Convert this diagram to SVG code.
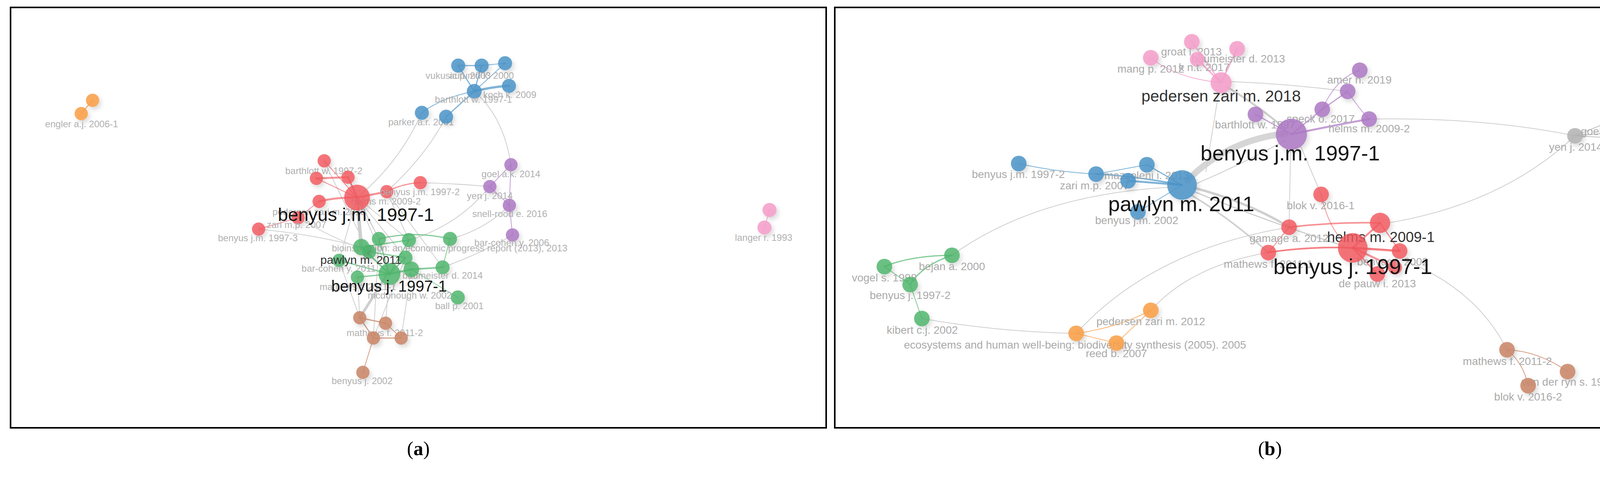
<svg xmlns="http://www.w3.org/2000/svg" width="4390" height="1222" viewBox="0 0 4390 1222">
<style>
text{font-family:"Liberation Sans",Arial,sans-serif;text-anchor:middle}
.la{font-size:24px;fill:#b0b0b0}
.lb{font-size:28px;fill:#aaaaaa}
.dk{fill:#151515}
.md{fill:#333333}
.frame{fill:none;stroke:#000;stroke-width:4}
.cap{font-family:"Liberation Serif","Times New Roman",serif;font-size:50px;fill:#000}
circle{filter:url(#sh)}
.R{fill:#f2585e;fill-opacity:.82}
.G{fill:#4db56a;fill-opacity:.82}
.B{fill:#4a94c8;fill-opacity:.85}
.P{fill:#ad78c4;fill-opacity:.85}
.O{fill:#f9a04a;fill-opacity:.88}
.N{fill:#c9886a;fill-opacity:.88}
.K{fill:#f59fcb;fill-opacity:.88}
.Y{fill:#b3b3b3;fill-opacity:.85}
.e{fill:none;stroke:#cfcfcf;stroke-width:2;stroke-linecap:round}
.eR{fill:none;stroke:#f2585e;stroke-opacity:.65;stroke-linecap:round}
.eG{fill:none;stroke:#4db56a;stroke-opacity:.7;stroke-linecap:round}
.eB{fill:none;stroke:#4a94c8;stroke-opacity:.7;stroke-linecap:round}
.eP{fill:none;stroke:#ad78c4;stroke-opacity:.7;stroke-linecap:round}
.eO{fill:none;stroke:#f9a04a;stroke-opacity:.75;stroke-linecap:round}
.eN{fill:none;stroke:#c9886a;stroke-opacity:.8;stroke-linecap:round}
.eK{fill:none;stroke:#f59fcb;stroke-opacity:.8;stroke-linecap:round}
.eY{fill:none;stroke:#a8a8a8;stroke-opacity:.7;stroke-linecap:round}
</style>
<defs>
<filter id="sh" x="-60%" y="-60%" width="220%" height="220%">
<feDropShadow dx="5" dy="7" stdDeviation="6" flood-color="#000" flood-opacity="0.16"/>
</filter>
</defs>
<rect x="0" y="0" width="4390" height="1222" fill="#fff"/>
<rect class="frame" x="27" y="19" width="2088" height="1077"/>
<rect class="frame" x="2137" y="19" width="2229" height="1077"/>

<g id="connectors">
<!-- panel a gray -->
<path class="e" d="M914,506 Q1020,420 1080,289"/>
<path class="e" d="M990,491 Q1090,400 1142,299"/>
<path class="e" d="M1076,468 Q1165,470 1254,478"/>
<path class="e" d="M1214,234 Q1290,300 1308,422"/>
<path class="e" d="M1047,615 Q1170,580 1254,478"/>
<path class="e" d="M1152,612 Q1240,590 1304,526"/>
<path class="e" d="M1133,685 Q1230,650 1312,602"/>
<path class="e" style="stroke-width:9" d="M914,506 L925,633"/>
<path class="e" style="stroke-width:7" d="M990,705 L921,814"/>
<path class="e" d="M662,587 Q800,600 925,633"/>
<path class="e" d="M763,558 Q850,610 945,645"/>
<path class="e" d="M914,506 L970,612"/>
<path class="e" d="M914,506 L1047,615"/>
<path class="e" d="M914,506 L1038,660"/>
<path class="e" d="M914,506 L997,702"/>
<path class="e" d="M914,506 L868,667"/>
<path class="e" d="M830,412 Q900,560 945,645"/>
<path class="e" d="M990,491 L1047,615"/>
<path class="e" d="M990,491 L1133,685"/>
<path class="e" d="M891,454 L970,612"/>
<path class="e" d="M997,702 L987,828"/>
<path class="e" d="M1053,690 L1027,866"/>
<path class="e" d="M1038,660 L956,866"/>
<path class="e" d="M915,710 L921,814"/>
<path class="e" d="M970,612 L956,866"/>
<path class="e" d="M868,667 L921,814"/>
<!-- panel a colored -->
<path class="eR" style="stroke-width:2" d="M830,412 L914,506"/>
<path class="eR" style="stroke-width:5" d="M810,457 L891,454"/>
<path class="eR" style="stroke-width:2" d="M810,457 L914,506"/>
<path class="eR" style="stroke-width:4" d="M891,454 L914,506"/>
<path class="eR" style="stroke-width:5" d="M817,516 Q860,505 914,506"/>
<path class="eR" style="stroke-width:5" d="M914,506 L990,491"/>
<path class="eR" style="stroke-width:3" d="M990,491 Q1030,470 1076,468"/>
<path class="eR" style="stroke-width:2" d="M763,558 L817,516"/>
<path class="eR" style="stroke-width:2" d="M662,587 L763,558"/>
<path class="eG" style="stroke-width:4" d="M925,633 L997,702"/>
<path class="eG" style="stroke-width:3" d="M970,612 L997,702"/>
<path class="eG" style="stroke-width:3" d="M1047,615 L997,702"/>
<path class="eG" style="stroke-width:3" d="M868,667 L997,702"/>
<path class="eG" style="stroke-width:3" d="M915,710 L997,702"/>
<path class="eG" style="stroke-width:3" d="M1038,660 L997,702"/>
<path class="eG" style="stroke-width:5" d="M1053,690 L997,702"/>
<path class="eG" style="stroke-width:4" d="M1133,685 L1053,690"/>
<path class="eG" style="stroke-width:2" d="M1152,612 L1133,685"/>
<path class="eG" style="stroke-width:3" d="M970,612 Q1060,590 1152,612"/>
<path class="eG" style="stroke-width:2" d="M1172,762 L1053,690"/>
<path class="eG" style="stroke-width:3" d="M925,633 L1047,615"/>
<path class="eG" style="stroke-width:3" d="M945,645 L1038,660"/>
<path class="eB" style="stroke-width:3" d="M1173,168 L1233,168"/>
<path class="eB" style="stroke-width:2" d="M1233,168 L1293,162"/>
<path class="eB" style="stroke-width:3" d="M1173,168 L1214,234"/>
<path class="eB" style="stroke-width:3" d="M1233,168 L1214,234"/>
<path class="eB" style="stroke-width:2" d="M1293,162 L1214,234"/>
<path class="eB" style="stroke-width:6" d="M1214,234 Q1260,222 1303,220"/>
<path class="eB" style="stroke-width:2" d="M1214,234 Q1130,250 1080,289"/>
<path class="eB" style="stroke-width:3" d="M1214,234 L1142,299"/>
<path class="eP" style="stroke-width:2" d="M1308,422 L1254,478"/>
<path class="eP" style="stroke-width:2" d="M1308,422 L1304,526"/>
<path class="eP" style="stroke-width:2" d="M1254,478 L1304,526"/>
<path class="eP" style="stroke-width:2" d="M1304,526 L1312,602"/>
<path class="eN" style="stroke-width:3" d="M921,814 L987,828"/>
<path class="eN" style="stroke-width:3" d="M921,814 L956,866"/>
<path class="eN" style="stroke-width:3" d="M956,866 L1027,866"/>
<path class="eN" style="stroke-width:2" d="M987,828 L1027,866"/>
<path class="eN" style="stroke-width:2" d="M956,866 L929,954"/>
<path class="eO" style="stroke-width:3" d="M237,257 L208,291"/>
<path class="eK" style="stroke-width:2" d="M1970,538 L1957,583"/>
<!-- panel b gray -->
<path class="e" style="stroke-width:16;stroke:#d6d6d6" d="M3040,462 Q3140,360 3290,342"/>
<path class="e" style="stroke-width:5" d="M3140,222 Q3220,270 3290,330"/>
<path class="e" d="M3120,236 L3087,440"/>
<path class="e" d="M3150,209 Q3300,215 3450,234"/>
<path class="e" d="M3505,305 Q3800,300 4032,348"/>
<path class="e" d="M3560,570 Q3850,520 4032,348"/>
<path class="e" d="M3590,665 Q3780,740 3858,896"/>
<path class="e" d="M3304,384 L3300,582"/>
<path class="e" d="M3330,375 L3382,498"/>
<path class="e" style="stroke-width:6" d="M3060,482 Q3200,520 3300,582"/>
<path class="e" style="stroke-width:4" d="M3050,500 Q3150,560 3247,647"/>
<path class="e" style="stroke-width:3" d="M3060,492 Q3250,570 3440,630"/>
<path class="e" d="M3064,470 Q3180,420 3290,360"/>
<path class="e" d="M2437,654 Q2650,500 2990,480"/>
<path class="e" d="M2360,816 Q2550,850 2755,854"/>
<path class="e" d="M2946,795 Q3050,680 3247,647"/>
<path class="e" d="M2755,854 Q2950,640 3300,582"/>
<!-- panel b colored -->
<path class="eK" style="stroke-width:3" d="M3126,212 L3051,107"/>
<path class="eK" style="stroke-width:4" d="M3126,212 L3167,125"/>
<path class="eK" style="stroke-width:4" d="M3126,212 L3065,152"/>
<path class="eK" style="stroke-width:2" d="M3126,212 Q3010,200 2946,148"/>
<path class="eP" style="stroke-width:3" d="M3306,344 L3214,293"/>
<path class="eP" style="stroke-width:3" d="M3306,344 L3385,280"/>
<path class="eP" style="stroke-width:5" d="M3306,344 Q3420,320 3505,305"/>
<path class="eP" style="stroke-width:3" d="M3385,280 L3450,234"/>
<path class="eP" style="stroke-width:2" d="M3385,280 Q3420,200 3481,180"/>
<path class="eP" style="stroke-width:2" d="M3450,234 Q3480,280 3505,305"/>
<path class="eB" style="stroke-width:3" d="M3026,474 L2936,422"/>
<path class="eB" style="stroke-width:5" d="M3026,474 L2888,463"/>
<path class="eB" style="stroke-width:4" d="M3026,474 Q2900,450 2806,446"/>
<path class="eB" style="stroke-width:2" d="M3026,474 L2913,543"/>
<path class="eB" style="stroke-width:2" d="M2806,446 L2936,422"/>
<path class="eB" style="stroke-width:2" d="M2608,419 Q2700,440 2806,446"/>
<path class="eG" style="stroke-width:3" d="M2437,654 Q2330,655 2264,683"/>
<path class="eG" style="stroke-width:2" d="M2264,683 L2330,729"/>
<path class="eG" style="stroke-width:3" d="M2437,654 Q2360,680 2330,729"/>
<path class="eG" style="stroke-width:2" d="M2330,729 L2360,816"/>
<path class="eO" style="stroke-width:2" d="M2755,854 L2858,879"/>
<path class="eO" style="stroke-width:2" d="M2755,854 Q2860,840 2946,795"/>
<path class="eO" style="stroke-width:2" d="M2858,879 L2946,795"/>
<path class="eR" style="stroke-width:4" d="M3300,582 Q3420,568 3533,571"/>
<path class="eR" style="stroke-width:4" d="M3247,647 Q3350,630 3463,635"/>
<path class="eR" style="stroke-width:2" d="M3247,647 L3300,582"/>
<path class="eR" style="stroke-width:2" d="M3382,498 Q3400,580 3440,620"/>
<path class="eR" style="stroke-width:5" d="M3463,635 L3533,571"/>
<path class="eR" style="stroke-width:6" d="M3463,635 L3583,643"/>
<path class="eR" style="stroke-width:5" d="M3463,635 L3571,685"/>
<path class="eR" style="stroke-width:4" d="M3463,635 L3526,702"/>
<path class="eR" style="stroke-width:3" d="M3533,571 L3583,643"/>
<path class="eR" style="stroke-width:2" d="M3247,647 Q3400,625 3583,643"/>
<path class="eN" style="stroke-width:2" d="M3858,896 Q3940,900 4013,952"/>
<path class="eN" style="stroke-width:2" d="M3858,896 Q3900,930 3912,988"/>
<path class="eY" style="stroke-width:2" d="M4032,348 L4137,305"/>
<path class="eY" style="stroke-width:2" d="M4032,348 L4232,331"/>
<path class="eY" style="stroke-width:2" d="M4032,348 L4169,355"/>
<path class="eY" style="stroke-width:2" d="M4137,305 L4200,294"/>
<path class="eY" style="stroke-width:2" d="M4200,294 L4232,331"/>
<path class="eY" style="stroke-width:2" d="M4137,305 L4232,331"/>
<path class="eY" style="stroke-width:2" d="M4169,355 L4232,331"/>
</g>

<!-- ===== panel a nodes ===== -->
<g id="a-engler-2"><circle class="O" cx="237" cy="257" r="17"/></g>
<g id="a-engler-1"><circle class="O" cx="208" cy="291" r="17"/><text class="la" x="209" y="326">engler a.j. 2006-1</text></g>
<g id="a-langer-2"><circle class="K" cx="1970" cy="538" r="18"/></g>
<g id="a-langer-1"><circle class="K" cx="1957" cy="583" r="18"/><text class="la" x="1955" y="617">langer r. 1993</text></g>

<g id="a-vukusic"><circle class="B" cx="1173" cy="168" r="18"/><text class="la" x="1173" y="202">vukusic p. 2003</text></g>
<g id="a-autumn"><circle class="B" cx="1233" cy="168" r="18"/><text class="la" x="1233" y="202">autumn k. 2000</text></g>
<g id="a-blue-3"><circle class="B" cx="1293" cy="162" r="18"/></g>
<g id="a-koch"><circle class="B" cx="1303" cy="220" r="18"/><text class="la" x="1305" y="251">koch k. 2009</text></g>
<g id="a-barthlott-1"><circle class="B" cx="1214" cy="234" r="19"/><text class="la" x="1212" y="263">barthlott w. 1997-1</text></g>
<g id="a-parker"><circle class="B" cx="1080" cy="289" r="18"/><text class="la" x="1078" y="321">parker a.r. 2001</text></g>
<g id="a-blue-7"><circle class="B" cx="1142" cy="299" r="18"/></g>

<g id="a-goel"><circle class="P" cx="1308" cy="422" r="17"/><text class="la" x="1308" y="454">goel a.k. 2014</text></g>
<g id="a-yen"><circle class="P" cx="1254" cy="478" r="17"/><text class="la" x="1254" y="510">yen j. 2014</text></g>
<g id="a-snell"><circle class="P" cx="1304" cy="526" r="17"/><text class="la" x="1305" y="556">snell-rood e. 2016</text></g>
<g id="a-barcohen-2006"><circle class="P" cx="1312" cy="602" r="17"/><text class="la" x="1310" y="630">bar-cohen y. 2006</text></g>

<g id="a-barthlott-2"><circle class="R" cx="830" cy="412" r="17"/><text class="la" x="829" y="446">barthlott w. 1997-2</text></g>
<g id="a-red-2"><circle class="R" cx="810" cy="457" r="17"/></g>
<g id="a-red-3"><circle class="R" cx="891" cy="454" r="17"/></g>
<g id="a-helms-2"><circle class="R" cx="990" cy="491" r="17"/><text class="la" x="988" y="524">helms m. 2009-2</text></g>
<g id="a-benyus-jm-2"><circle class="R" cx="1076" cy="468" r="17"/><text class="la" x="1075" y="500">benyus j.m. 1997-2</text></g>
<g id="a-pedersen"><circle class="R" cx="817" cy="516" r="17"/><text class="la" x="817" y="551">pedersen zari m. 2018</text></g>
<g id="a-zari"><circle class="R" cx="763" cy="558" r="17"/><text class="la" x="759" y="584">zari m.p. 2007</text></g>
<g id="a-benyus-jm-3"><circle class="R" cx="662" cy="587" r="17"/><text class="la" x="660" y="618">benyus j.m. 1997-3</text></g>

<g id="a-bioinspiration"><circle class="G" cx="1152" cy="612" r="18"/><text class="la" x="1151" y="644">bioinspiration: an economic progress report (2013), 2013</text></g>
<g id="a-green-2"><circle class="G" cx="970" cy="612" r="18"/></g>
<g id="a-green-3"><circle class="G" cx="1047" cy="615" r="18"/></g>
<g id="a-green-4"><circle class="G" cx="945" cy="645" r="18"/></g>
<g id="a-green-5"><circle class="G" cx="1038" cy="660" r="18"/></g>
<g id="a-barcohen-2011"><circle class="G" cx="868" cy="667" r="17"/><text class="la" x="867" y="696">bar-cohen y. 2011</text></g>
<g id="a-baumeister"><circle class="G" cx="1133" cy="685" r="18"/><text class="la" x="1133" y="714">baumeister d. 2014</text></g>
<g id="a-mathews-1"><circle class="G" cx="915" cy="710" r="17"/><text class="la" x="916" y="743">mathews f. 2011-1</text></g>
<g id="a-mcdonough"><circle class="G" cx="1053" cy="690" r="20"/><text class="la" x="1049" y="765">mcdonough w. 2002</text></g>
<g id="a-ball"><circle class="G" cx="1172" cy="762" r="18"/><text class="la" x="1176" y="792">ball p. 2001</text></g>
<g id="a-pawlyn"><circle class="G" cx="925" cy="633" r="21"/><text class="md" style="font-size:30px" x="924" y="676">pawlyn m. 2011</text></g>

<g id="a-brown-1"><circle class="N" cx="921" cy="814" r="17"/></g>
<g id="a-mathews-2"><circle class="N" cx="987" cy="828" r="17"/><text class="la" x="985" y="861">mathews f. 2011-2</text></g>
<g id="a-brown-3"><circle class="N" cx="956" cy="866" r="17"/></g>
<g id="a-brown-4"><circle class="N" cx="1027" cy="866" r="17"/></g>
<g id="a-benyus-2002"><circle class="N" cx="929" cy="954" r="17"/><text class="la" x="927" y="984">benyus j. 2002</text></g>

<g id="a-benyus-j-1997-1"><circle class="G" cx="997" cy="702" r="28"/><text class="dk" style="font-size:40px" x="996" y="747">benyus j. 1997-1</text></g>
<g id="a-benyus-jm-1997-1"><circle class="R" cx="914" cy="506" r="33"/><text class="dk" style="font-size:47px" x="911" y="566">benyus j.m. 1997-1</text></g>

<!-- ===== panel b nodes ===== -->
<g id="b-groat"><circle class="K" cx="3051" cy="107" r="20"/><text class="lb" x="3050" y="142">groat l. 2013</text></g>
<g id="b-baumeister"><circle class="K" cx="3167" cy="125" r="20"/><text class="lb" x="3170" y="160">baumeister d. 2013</text></g>
<g id="b-pink-4"><circle class="K" cx="3065" cy="152" r="19"/><text class="lb" style="text-anchor:end" x="3148" y="182">k n.t. 2017</text></g>
<g id="b-mang"><circle class="K" cx="2946" cy="148" r="20"/><text class="lb" x="2946" y="186">mang p. 2012</text></g>
<g id="b-pedersen-2018"><circle class="K" cx="3126" cy="212" r="27"/><text class="md" style="font-size:41px" x="3126" y="260">pedersen zari m. 2018</text></g>

<g id="b-barthlott"><circle class="P" cx="3214" cy="293" r="20"/><text class="lb" x="3213" y="329">barthlott w. 1997</text></g>
<g id="b-speck"><circle class="P" cx="3385" cy="280" r="20"/><text class="lb" x="3381" y="314">speck o. 2017</text></g>
<g id="b-purple-4"><circle class="P" cx="3450" cy="234" r="20"/></g>
<g id="b-amer"><circle class="P" cx="3481" cy="180" r="20"/><text class="lb" x="3480" y="214">amer n. 2019</text></g>
<g id="b-helms-2"><circle class="P" cx="3505" cy="305" r="20"/><text class="lb" x="3505" y="339">helms m. 2009-2</text></g>

<g id="b-mazzoleni"><circle class="B" cx="2936" cy="422" r="20"/><text class="lb" x="2936" y="459">mazzoleni i. 2013</text></g>
<g id="b-zari"><circle class="B" cx="2806" cy="446" r="20"/><text class="lb" x="2802" y="485">zari m.p. 2007</text></g>
<g id="b-blue-4"><circle class="B" cx="2888" cy="463" r="20"/></g>
<g id="b-benyus-jm-2002"><circle class="B" cx="2913" cy="543" r="20"/><text class="lb" x="2910" y="574">benyus j.m. 2002</text></g>
<g id="b-benyus-jm-1997-2"><circle class="B" cx="2608" cy="419" r="20"/><text class="lb" x="2607" y="456">benyus j.m. 1997-2</text></g>

<g id="b-bejan"><circle class="G" cx="2437" cy="654" r="20"/><text class="lb" x="2437" y="692">bejan a. 2000</text></g>
<g id="b-vogel"><circle class="G" cx="2264" cy="683" r="20"/><text class="lb" x="2264" y="721">vogel s. 1998</text></g>
<g id="b-benyus-j-1997-2"><circle class="G" cx="2330" cy="729" r="20"/><text class="lb" x="2330" y="766">benyus j. 1997-2</text></g>
<g id="b-kibert"><circle class="G" cx="2360" cy="816" r="20"/><text class="lb" x="2361" y="855">kibert c.j. 2002</text></g>

<g id="b-ecosystems"><circle class="O" cx="2755" cy="854" r="20"/><text class="lb" x="2752" y="893">ecosystems and human well-being: biodiversity synthesis (2005). 2005</text></g>
<g id="b-reed"><circle class="O" cx="2858" cy="879" r="20"/><text class="lb" x="2858" y="915">reed b. 2007</text></g>
<g id="b-pedersen-2012"><circle class="O" cx="2946" cy="795" r="20"/><text class="lb" x="2946" y="833">pedersen zari m. 2012</text></g>

<g id="b-blok-1"><circle class="R" cx="3382" cy="498" r="20"/><text class="lb" x="3381" y="536">blok v. 2016-1</text></g>
<g id="b-gamage"><circle class="R" cx="3300" cy="582" r="20"/><text class="lb" x="3300" y="620">gamage a. 2012</text></g>
<g id="b-mathews-1"><circle class="R" cx="3247" cy="647" r="20"/><text class="lb" x="3247" y="686">mathews f. 2011-1</text></g>
<g id="b-red-6"><circle class="R" cx="3583" cy="643" r="20"/></g>
<g id="b-benyus-j-2002"><circle class="R" cx="3571" cy="685" r="18"/><text class="lb" x="3565" y="680">benyus j. 2002</text></g>
<g id="b-depauw"><circle class="R" cx="3526" cy="702" r="20"/><text class="lb" x="3526" y="736">de pauw i. 2013</text></g>
<g id="b-helms-1"><circle class="R" cx="3533" cy="571" r="26"/><text class="md" style="font-size:37px" x="3535" y="620">helms m. 2009-1</text></g>

<g id="b-yen"><circle class="Y" cx="4032" cy="348" r="20"/><text class="lb" x="4034" y="386">yen j. 2014</text></g>
<g id="b-gray-5"><circle class="Y" cx="4169" cy="355" r="20"/></g>
<g id="b-gray-3"><circle class="Y" cx="4200" cy="294" r="20"/></g>
<g id="b-goel"><circle class="Y" cx="4137" cy="305" r="20"/><text class="lb" x="4135" y="346">goel a.k. 2014</text></g>
<g id="b-snell"><circle class="Y" cx="4232" cy="331" r="20"/><text class="lb" x="4230" y="368">snell-rood e. 2016</text></g>

<g id="b-mathews-2"><circle class="N" cx="3858" cy="896" r="20"/><text class="lb" x="3859" y="935">mathews f. 2011-2</text></g>
<g id="b-vanderryn"><circle class="N" cx="4013" cy="952" r="20"/><text class="lb" x="4015" y="988">van der ryn s. 1996</text></g>
<g id="b-blok-2"><circle class="N" cx="3912" cy="988" r="20"/><text class="lb" x="3912" y="1026">blok v. 2016-2</text></g>

<g id="b-pawlyn"><circle class="B" cx="3026" cy="474" r="38"/><text class="dk" style="font-size:54px" x="3024" y="541">pawlyn m. 2011</text></g>
<g id="b-benyus-jm-1997-1"><circle class="P" cx="3306" cy="344" r="40"/><text class="dk" style="font-size:54px" x="3303" y="411">benyus j.m. 1997-1</text></g>
<g id="b-benyus-j-1997-1"><circle class="R" cx="3463" cy="635" r="38"/><text class="dk" style="font-size:55px" x="3463" y="702">benyus j. 1997-1</text></g>

<text class="cap" x="1071" y="1166">(<tspan font-weight="bold">a</tspan>)</text>
<text class="cap" x="3251" y="1166">(<tspan font-weight="bold">b</tspan>)</text>
</svg>
